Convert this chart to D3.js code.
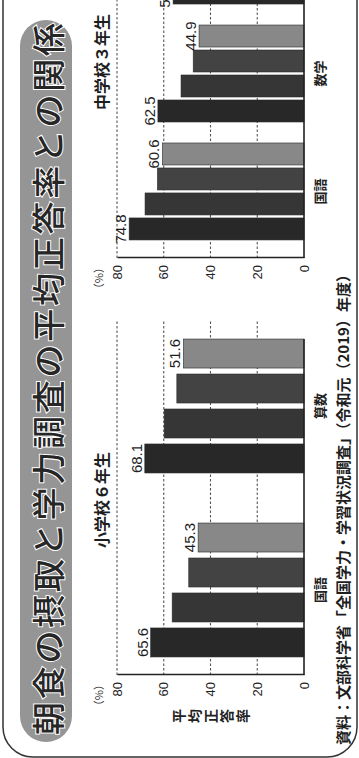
<!DOCTYPE html>
<html>
<head>
<meta charset="utf-8">
<script src="https://cdn.jsdelivr.net/npm/d3@7"></script>
<style>
html, body { margin: 0; padding: 0; background: #fff; }
svg { display: block; }
</style>
</head>
<body>
<div id="chart"></div>
<script>
// chart data
var title = '朝食の摂取と学力調査の平均正答率との関係';
var elemTitle = '小学校６年生';
var jhTitle = '中学校３年生';
var elemSubjects = ['国語', '算数'];
var elemValues = [[65.6, 56.4, 49.3, 45.3], [68.1, 59.8, 54.4, 51.6]];
var jhSubjects = ['国語', '数学', '英語'];
var jhValues = [[74.8, 68.0, 62.7, 60.6], [62.5, 52.6, 47.4, 44.9], [56.0]];
var yTicks = [0, 20, 40, 60, 80];
var yLabel = '平均正答率';
var unitLabel = '（%）';
var source = '資料：文部科学省「全国学力・学習状況調査」（令和元（2019）年度）';
var barColors = ['#282828', '#363636', '#434343', '#888888'];
var labelled = [0, 3];

var W = 758, H = 359; // page is drawn upright, then turned a quarter left
var jpFont = '"Noto Sans CJK JP", sans-serif';
var numFont = '"Liberation Sans", Arial, sans-serif';

var svg = d3.select('#chart').append('svg')
    .attr('width', H)
    .attr('height', W);

var g = svg.append('g')
    .attr('transform', 'translate(0,' + W + ') rotate(-90)');

// frame
g.append('rect')
    .attr('x', 1).attr('y', 3)
    .attr('width', 830).attr('height', 354)
    .attr('rx', 30)
    .style('fill', 'none')
    .style('stroke', '#333')
    .style('stroke-width', 1.5);

// title banner
g.append('rect')
    .attr('x', 16).attr('y', 20)
    .attr('width', 722).attr('height', 52)
    .attr('rx', 26)
    .style('fill', '#959595');

g.append('text')
    .attr('x', 379).attr('y', 47)
    .attr('text-anchor', 'middle')
    .attr('dominant-baseline', 'central')
    .attr('textLength', 712)
    .attr('lengthAdjust', 'spacing')
    .style('font-family', jpFont)
    .style('font-size', '33px')
    .style('font-weight', 500)
    .style('fill', '#262626')
    .style('stroke', '#fff')
    .style('stroke-width', 2)
    .style('paint-order', 'stroke')
    .text(title);

var y = d3.scaleLinear().domain([0, 80]).range([304, 117]);

function drawPanel(cfg) {
    var x = d3.scaleBand()
        .domain(cfg.subjects)
        .range([cfg.x0, cfg.x1])
        .paddingInner(cfg.padInner)
        .paddingOuter(cfg.padOuter);

    var inner = d3.scaleBand()
        .domain([0, 1, 2, 3])
        .range([0, x.bandwidth()])
        .paddingInner(cfg.barPad);

    var panel = g.append('g');

    // dashed grid
    panel.selectAll('.grid')
        .data(yTicks.filter((d) => d > 0))
        .enter().append('line')
        .attr('x1', cfg.x0).attr('x2', cfg.x1)
        .attr('y1', (d) => y(d)).attr('y2', (d) => y(d))
        .style('stroke', '#555')
        .style('stroke-width', 1.1)
        .style('stroke-dasharray', '2.5,2');

    var rows = cfg.subjects.map((s, i) => cfg.values[i].map((v, j) => ({subject: s, idx: j, value: v})));
    var bars = [].concat.apply([], rows);

    panel.selectAll('.bar')
        .data(bars)
        .enter().append('rect')
        .attr('x', (d) => x(d.subject) + inner(d.idx))
        .attr('y', (d) => y(d.value))
        .attr('width', inner.bandwidth())
        .attr('height', (d) => y(0) - y(d.value))
        .style('fill', (d) => barColors[d.idx])
        .style('stroke', '#2a2a2a')
        .style('stroke-width', 0.6);

    panel.selectAll('.val')
        .data(bars.filter((d) => labelled.indexOf(d.idx) >= 0))
        .enter().append('text')
        .attr('x', (d) => x(d.subject) + inner(d.idx) + inner.bandwidth() / 2)
        .attr('y', (d) => y(d.value) - 3)
        .attr('text-anchor', 'middle')
        .style('font-family', numFont)
        .style('font-size', '15px')
        .style('fill', '#1e1e1e')
        .text((d) => d.value.toFixed(1));

    // zero line
    var lastEnd = x(cfg.subjects[cfg.subjects.length - 1]) + x.bandwidth();
    panel.append('line')
        .attr('x1', cfg.x0).attr('x2', Math.max(lastEnd, cfg.baseEnd || 0))
        .attr('y1', y(0)).attr('y2', y(0))
        .style('stroke', '#222')
        .style('stroke-width', 1.6);

    var axis = panel.append('g')
        .attr('transform', 'translate(' + cfg.x0 + ',0)')
        .call(d3.axisLeft(y).tickValues(yTicks).tickSize(0).tickPadding(7));
    axis.select('.domain').style('stroke', '#222').style('stroke-width', 1.6);
    axis.selectAll('text')
        .style('font-family', numFont)
        .style('font-size', '13px')
        .style('fill', '#222');

    panel.append('text')
        .attr('x', cfg.x0 - 4).attr('y', 103)
        .attr('text-anchor', 'end')
        .style('font-family', jpFont)
        .style('font-size', '11px')
        .style('fill', '#333')
        .text(unitLabel);

    // subject names, only those that fall on the page
    panel.selectAll('.cat')
        .data(cfg.subjects.filter((d) => x(d) + x.bandwidth() / 2 < W))
        .enter().append('text')
        .attr('x', (d) => x(d) + x.bandwidth() / 2)
        .attr('y', 325)
        .attr('text-anchor', 'middle')
        .style('font-family', jpFont)
        .style('font-size', '13px')
        .style('font-weight', 700)
        .style('fill', '#222')
        .text((d) => d);

    panel.append('text')
        .attr('x', cfg.titleX).attr('y', 108)
        .attr('text-anchor', 'middle')
        .style('font-family', jpFont)
        .style('font-size', '16px')
        .style('font-weight', 700)
        .style('fill', '#1e1e1e')
        .text(cfg.title);
}

drawPanel({
    subjects: elemSubjects, values: elemValues, title: elemTitle, titleX: 258,
    x0: 83, x1: 437, padInner: 0.272, padOuter: 0.098, barPad: 0.171
});

drawPanel({
    subjects: jhSubjects, values: jhValues, title: jhTitle, titleX: 696,
    x0: 500, x1: 869, padInner: 0.178, padOuter: 0.153, barPad: 0.12, baseEnd: 869
});

// vertical axis title
g.selectAll('.ylab')
    .data(Array.from(yLabel))
    .enter().append('text')
    .attr('x', 42)
    .attr('y', (d, i) => 178 + i * 16)
    .attr('text-anchor', 'middle')
    .attr('dominant-baseline', 'central')
    .style('font-family', jpFont)
    .style('font-size', '14px')
    .style('font-weight', 700)
    .style('fill', '#222')
    .text((d) => d);

// source note
g.append('text')
    .attr('x', 13).attr('y', 349)
    .style('font-family', jpFont)
    .style('font-size', '15px')
    .style('font-weight', 700)
    .style('fill', '#1e1e1e')
    .text(source);
</script>
</body>
</html>
